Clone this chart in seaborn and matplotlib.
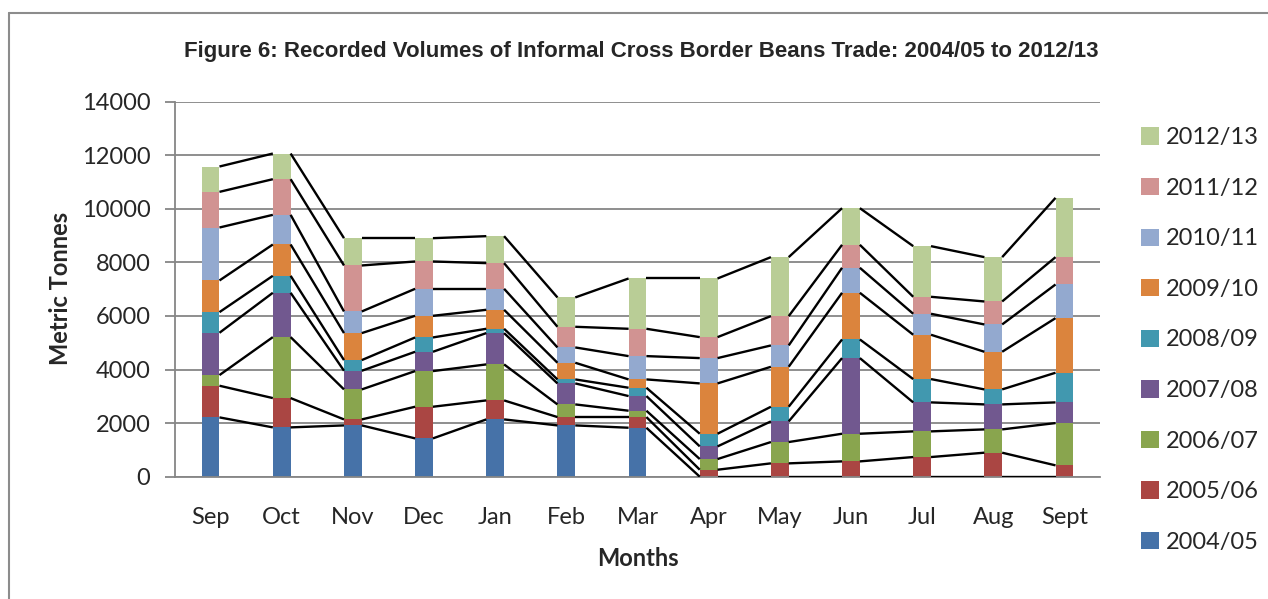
import matplotlib
matplotlib.use("Agg")
import matplotlib.pyplot as plt
import matplotlib.font_manager as fm
from matplotlib.lines import Line2D
from matplotlib.patches import Patch
import seaborn as sns
import numpy as np

# dados (toneladas por época, empilhadas)
months = ["Sep", "Oct", "Nov", "Dec", "Jan", "Feb", "Mar", "Apr", "May", "Jun", "Jul", "Aug", "Sept"]
seasons = ["2004/05", "2005/06", "2006/07", "2007/08", "2008/09",
           "2009/10", "2010/11", "2011/12", "2012/13"]

y0405 = [2214, 1841, 1915, 1430, 2139, 1915, 1828, 0, 0, 0, 0, 0, 0]
y0506 = [1182, 1094, 224, 1182, 709, 311, 398, 261, 498, 572, 734, 896, 423]
y0607 = [398, 2276, 1120, 1331, 1344, 473, 237, 398, 796, 1032, 958, 870, 1579]
y0708 = [1579, 1655, 696, 721, 1169, 784, 547, 473, 771, 2824, 1082, 933, 772]
y0809 = [771, 634, 398, 535, 161, 149, 311, 472, 547, 696, 870, 560, 1107]
y0910 = [1182, 1169, 1008, 808, 709, 622, 311, 1879, 1492, 1742, 1655, 1405, 2039]
y1011 = [1977, 1107, 808, 1008, 784, 572, 870, 945, 796, 933, 783, 1020, 1257]
y1112 = [1331, 1331, 1717, 1020, 958, 771, 1020, 783, 1095, 858, 634, 858, 1020]
y1213 = [946, 958, 1019, 870, 1007, 1095, 1878, 2189, 2202, 1368, 1891, 1655, 2213]

series = [y0405, y0506, y0607, y0708, y0809, y0910, y1011, y1112, y1213]
colors = ["#4672A8", "#AA4643", "#89A54E", "#71588F", "#4198AF",
          "#DB843D", "#93A9CF", "#D19392", "#B9CD96"]

sns.set_style("white")
names = {f.name for f in fm.fontManager.ttflist}
base_font = "Lato" if "Lato" in names else "DejaVu Sans"
title_font = "Liberation Sans Narrow" if "Liberation Sans Narrow" in names else "Liberation Sans"
plt.rcParams["font.family"] = [base_font, "DejaVu Sans"]

grey = "#868686"
bar_w = 0.25

fig = plt.figure(figsize=(12.68, 5.99), dpi=100)
ax = fig.add_axes([175 / 1268, 1 - 476.7 / 599, (1100 - 175) / 1268, (476.7 - 101.7) / 599])

cum = np.cumsum(np.array(series), axis=0)

# barras empilhadas: desenha do total para baixo
for i in range(len(series) - 1, -1, -1):
    sns.barplot(x=months, y=cum[i], color=colors[i], width=bar_w,
                saturation=1, ax=ax, edgecolor="none", zorder=2)

# linhas de série (ligam os topos de cada camada entre barras vizinhas)
x = np.arange(len(months))
for i in range(len(series)):
    for j in range(len(months) - 1):
        ax.plot([x[j] + bar_w / 2, x[j + 1] - bar_w / 2], [cum[i][j], cum[i][j + 1]],
                color="black", lw=1.7, zorder=3, solid_capstyle="butt")

ax.set_xlim(-0.5, len(months) - 0.5)
ax.set_ylim(0, 14000)
ax.set_yticks(range(0, 14001, 2000))
ax.yaxis.grid(True, color=grey, lw=1.3)
ax.set_axisbelow(True)
for s in ["top", "right"]:
    ax.spines[s].set_visible(False)
for s in ["left", "bottom"]:
    ax.spines[s].set_color(grey)
    ax.spines[s].set_linewidth(1.3)
ax.tick_params(axis="y", which="major", left=True, length=7.2, width=1.3,
               color=grey, pad=10.5, labelsize=17)
ax.tick_params(axis="x", length=0, pad=22, labelsize=17)
ax.set_xlabel("")
ax.set_ylabel("")

fig.text(641 / 1268, 1 - 52 / 599,
         "Figure 6: Recorded Volumes of Informal Cross Border Beans Trade: 2004/05 to 2012/13",
         ha="center", va="center", fontsize=16, fontweight="bold",
         family=[title_font, "DejaVu Sans"])
fig.text(60 / 1268, 1 - 288 / 599, "Metric Tonnes", rotation=90, ha="center",
         va="center", fontsize=17, fontweight="bold")
fig.text(638 / 1268, 1 - 558 / 599, "Months", ha="center", va="center",
         fontsize=17, fontweight="bold")

handles = [Patch(facecolor=colors[i], edgecolor="none") for i in range(len(series))][::-1]
fig.legend(handles, seasons[::-1], loc="center left",
           bbox_to_anchor=(1141 / 1268, 1 - 340 / 599), frameon=False,
           fontsize=17, borderpad=0, borderaxespad=0, handlelength=0.76,
           handleheight=0.76, handletextpad=0.3, labelspacing=1.25)

# moldura da área do gráfico
fig.add_artist(Line2D([9 / 1268, 1], [1 - 13 / 599, 1 - 13 / 599],
                      color="#8c8c8c", lw=1.5, transform=fig.transFigure))
fig.add_artist(Line2D([9 / 1268, 9 / 1268], [0, 1 - 13 / 599],
                      color="#8c8c8c", lw=1.5, transform=fig.transFigure))

fig.savefig("out.png", dpi=100)
